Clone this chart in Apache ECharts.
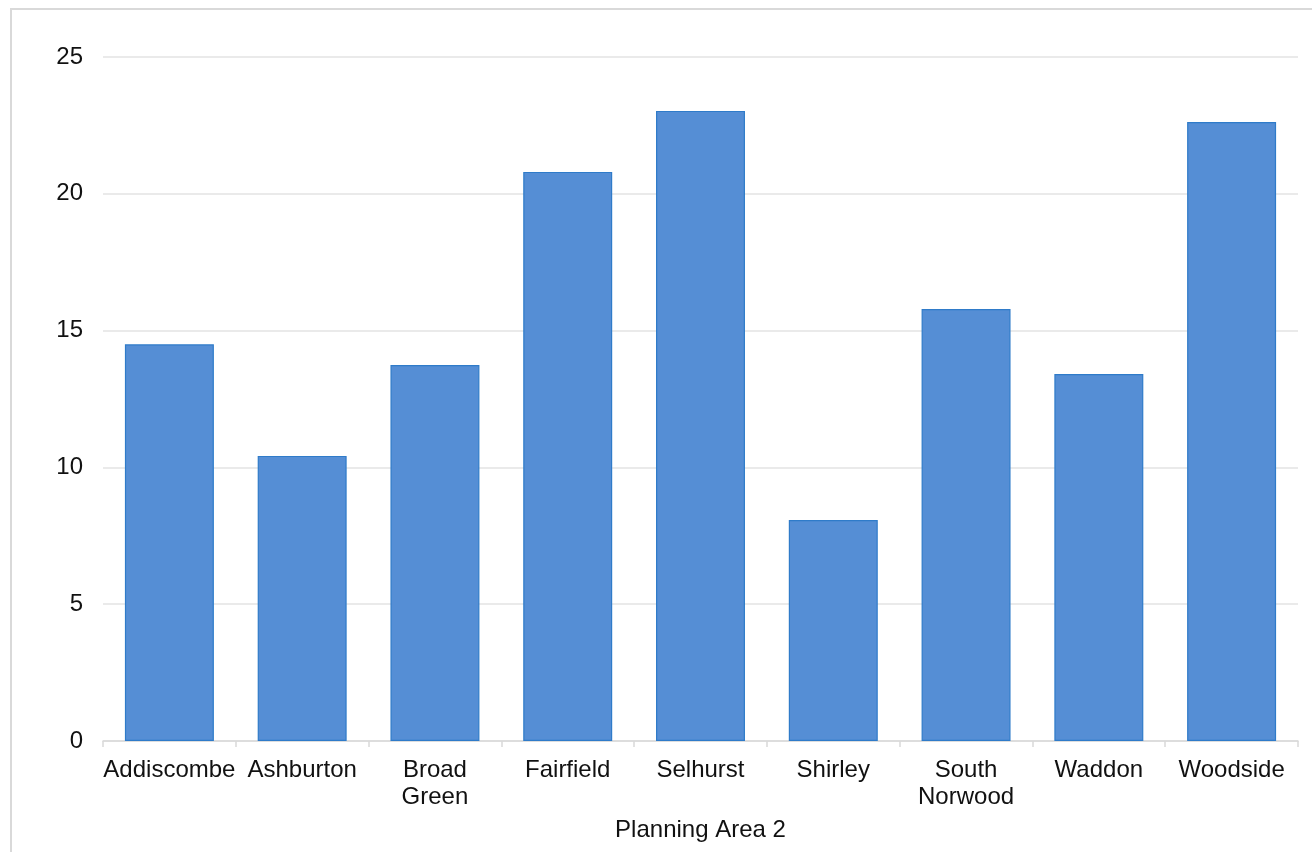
<!DOCTYPE html>
<html><head><meta charset="utf-8">
<script src="https://cdn.jsdelivr.net/npm/echarts@6/dist/echarts.min.js"></script>
<style>html,body{margin:0;padding:0;background:#fff}
#frame{position:absolute;left:10px;top:8px;width:1310px;height:850px;border:2px solid #d9d9d9;box-sizing:border-box}
#c{position:absolute;left:0;top:0;width:1312px;height:852px}</style>
</head><body><div id="frame"></div><div id="c"></div>
<script>
const categories = ['Addiscombe','Ashburton','Broad\nGreen','Fairfield','Selhurst','Shirley','South\nNorwood','Waddon','Woodside'];
const values = [14.5, 10.42, 13.74, 20.8, 23.03, 8.08, 15.79, 13.41, 22.62];
const yTicks = [0, 5, 10, 15, 20, 25];
const xTitle = 'Planning Area 2';

const chart = echarts.init(document.getElementById('c'), null, {renderer:'canvas'});
const font = '"Liberation Sans", Arial, sans-serif';
chart.setOption({
  animation:false,
  grid:{left:103, right:14, top:57, bottom:111, containLabel:false},
  xAxis:{type:'category', data:categories, name:xTitle, nameLocation:'middle', nameGap:77,
    nameTextStyle:{fontFamily:font, fontSize:24, color:'#111'},
    axisLine:{lineStyle:{color:'#d9d9d9', width:1.5}},
    axisTick:{show:true, length:6, lineStyle:{color:'#d9d9d9', width:1.5}},
    axisLabel:{fontFamily:font, fontSize:24, color:'#111', margin:16, lineHeight:27, interval:0}},
  yAxis:{type:'value', min:yTicks[0], max:yTicks[yTicks.length-1], interval:5,
    axisLine:{show:false}, axisTick:{show:false},
    splitLine:{lineStyle:{color:'#e3e3e3', width:1.5}},
    axisLabel:{fontFamily:font, fontSize:24, color:'#111', margin:20}},
  series:[{type:'bar', data:values, barCategoryGap:'33%',
    itemStyle:{color:'#558ED5', borderColor:'#2F7BC9', borderWidth:1.2}}]
});
</script></body></html>
